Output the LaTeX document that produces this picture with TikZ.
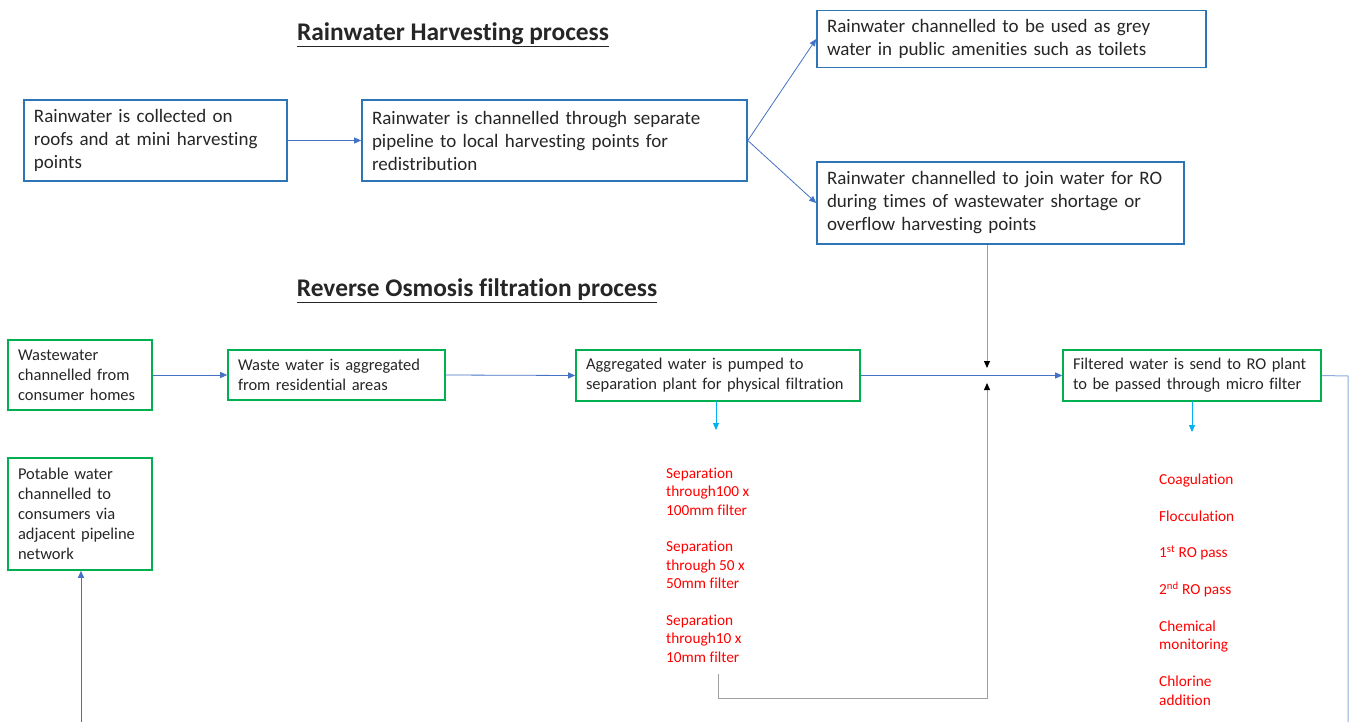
\documentclass[tikz,border=0pt]{standalone}
\usepackage{fontspec}
\setmainfont{Carlito}[Ligatures={NoCommon}]
\usetikzlibrary{arrows.meta}
\definecolor{boxblue}{RGB}{46,117,182}
\definecolor{boxgreen}{RGB}{0,176,80}
\definecolor{lineblue}{RGB}{68,114,196}
\definecolor{paleblue}{RGB}{143,170,220}
\definecolor{cyanline}{RGB}{0,176,240}
\definecolor{grayline}{RGB}{160,160,160}
\definecolor{redtext}{RGB}{255,0,0}
\definecolor{textgray}{RGB}{38,38,38}
\tikzset{
  tbox/.style={draw=boxblue, line width=1.6pt, inner xsep=10pt, inner ysep=0pt, align=left,
    font=\fontsize{19}{23}\selectfont, text=textgray},
  gbox/.style={draw=boxgreen, line width=1.6pt, inner xsep=10pt, inner ysep=0pt, align=left,
    font=\fontsize{16.5}{20}\selectfont, text=textgray},
  redlist/.style={text=redtext, align=left, inner sep=0pt, anchor=north west,
    font=\fontsize{15.3}{18.4}\selectfont},
  heading/.style={font=\fontsize{25.4}{30}\selectfont\bfseries, text=textgray, inner sep=0pt},
  conn/.style={draw=lineblue, line width=0.8pt, -{Triangle[length=7pt,width=6pt]}},
  cconn/.style={draw=cyanline, line width=0.8pt, -{Triangle[length=7pt,width=6pt]}},
  gconn/.style={draw=grayline, line width=1pt, -{Triangle[length=7pt,width=6pt,color=black]}},
  pline/.style={draw=paleblue, line width=1pt},
}
\begin{document}
\begin{tikzpicture}[x=1pt,y=-1pt]
\useasboundingbox (0,0) rectangle (1355,722);

\node[heading] (h1) at (453,35) {\underline{Rainwater Harvesting process}};
\node[heading] (h2) at (477,291) {\underline{Reverse Osmosis filtration process}};

% top blue boxes
\node[tbox, minimum width=263pt, minimum height=81pt, text width=243pt] (A) at (155.5,140.5)
  {Rainwater is collected on\\roofs and at mini harvesting\\points};
\node[tbox, minimum width=385pt, minimum height=81pt, text width=365pt] (B) at (554.5,140.5)
  {Rainwater is channelled through separate\\pipeline to local harvesting points for\\redistribution};
\node[tbox, minimum width=389pt, minimum height=57pt, text width=369pt] (C) at (1011.5,39)
  {Rainwater channelled to be used as grey\\water in public amenities such as toilets};
\node[tbox, minimum width=367pt, minimum height=82pt, text width=347pt] (D) at (1000.5,203)
  {Rainwater channelled to join water for RO\\during times of wastewater shortage or\\overflow harvesting points};

% green boxes
\node[gbox, minimum width=144pt, minimum height=70pt, text width=124pt] (W1) at (80,375)
  {Wastewater\\channelled from\\consumer homes};
\node[gbox, minimum width=217pt, minimum height=50pt, text width=197pt] (W2) at (336.5,375)
  {Waste water is aggregated\\from residential areas};
\node[gbox, minimum width=284pt, minimum height=51pt, text width=264pt] (W3) at (718,375.5)
  {Aggregated water is pumped to\\separation plant for physical filtration};
\node[gbox, minimum width=258pt, minimum height=51pt, text width=238pt] (W4) at (1192,375.5)
  {Filtered water is send to RO plant\\to be passed through micro filter};
\node[gbox, minimum width=144pt, minimum height=112pt, text width=124pt] (P) at (80,514)
  {Potable water\\channelled to\\consumers via\\adjacent pipeline\\network};

% red lists
\node[redlist] (S) at (666,467.5)
  {Separation\\through100 x\\100mm filter\\[18.4pt]Separation\\through 50 x\\50mm filter\\[18.4pt]Separation\\through10 x\\10mm filter};
\node[redlist] (T) at (1159,473.5)
  {Coagulation\\[18.4pt]Flocculation\\[18.4pt]1\textsuperscript{st} RO pass\\[18.4pt]2\textsuperscript{nd} RO pass\\[18.4pt]Chemical\\monitoring\\[18.4pt]Chlorine\\addition};

% coordinates
\coordinate (J) at (987,376);
\coordinate (Jbot) at (987,698);
\coordinate (Sbot) at (718,674);
\coordinate (Sc) at (718,698);
\coordinate (R1) at (1348,376);
\coordinate (R2) at (1348,722);
\coordinate (P0) at (81,722);
\coordinate (S0) at (716,401);
\coordinate (S1) at (716,430);
\coordinate (T0) at (1192,401);
\coordinate (T1) at (1192,432);

% connectors
\draw[conn] (A.east) -- (B.west);
\draw[conn] (B.east) -- (C.west);
\draw[conn] (B.east) -- (D.west);
\draw[conn] (W1.east) -- (W2.west);
\draw[conn] (W2.east) -- (W3.west);
\draw[conn] (W3.east) -- (W4.west);
\draw[gconn] (D.south -| J) -- ([yshift=8pt]J);
\draw[gconn] (Sbot) -- (Sc) -- (Jbot) -- ([yshift=-7pt]J);
\draw[cconn] (S0) -- (S1);
\draw[cconn] (T0) -- (T1);
\draw[pline] (W4.east) -- (R1) -- (R2);
\draw[conn] (P0) -- (P.south -| P0);
\end{tikzpicture}
\end{document}
